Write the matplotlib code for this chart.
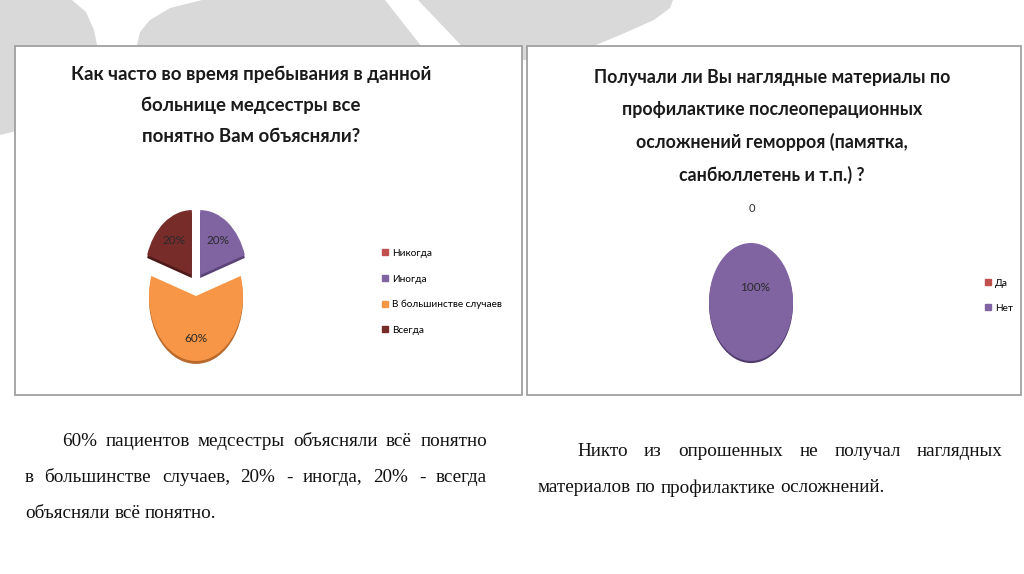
import matplotlib
matplotlib.use('Agg')
import matplotlib.pyplot as plt
from matplotlib.patches import Rectangle, Polygon, Patch

# данные
left_title = ['Как часто во время пребывания в данной', 'больнице медсестры все', 'понятно Вам объясняли?']
left_labels = ['Никогда', 'Иногда', 'В большинстве случаев', 'Всегда']
left_values = [0, 20, 60, 20]
left_colors = ['#c0504d', '#8064a2', '#f79646', '#772c2a']
left_shade = ['#8a3331', '#5b4478', '#b86a2c', '#4d1a19']

right_title = ['Получали ли Вы наглядные материалы по', 'профилактике послеоперационных',
               'осложнений геморроя (памятка,', 'санбюллетень и т.п.) ?']
right_labels = ['Да', 'Нет']
right_values = [0, 100]
right_colors = ['#c0504d', '#8064a2']
right_shade = ['#8a3331', '#4f3a6b']

left_text = ['60% пациентов медсестры объясняли всё понятно',
             'в большинстве случаев, 20% - иногда, 20% - всегда',
             'объясняли всё понятно.']
right_text = ['Никто из опрошенных не получал наглядных',
              'материалов по профилактике осложнений.']

W, H = 1024, 574
fig = plt.figure(figsize=(W / 100, H / 100), dpi=100)
bg = fig.add_axes([0, 0, 1, 1])
bg.set_xlim(0, W)
bg.set_ylim(H, 0)
bg.axis('off')

sans = ['Lato', 'DejaVu Sans']
serif = ['Liberation Serif', 'DejaVu Serif']

# серые фигуры фона
grey = '#d9d9d9'
bg.add_patch(Polygon([(0, 0), (72, 0), (86, 12), (94, 30), (100, 60), (100, 100), (60, 120), (0, 135)],
                     closed=True, fc=grey, ec='none'))
bg.add_patch(Polygon([(202, 0), (385, 0), (440, 70), (137, 70), (137, 45), (140, 32), (150, 20), (170, 8)],
                     closed=True, fc=grey, ec='none'))
bg.add_patch(Polygon([(418, 0), (673, 0), (670, 8), (654, 20), (620, 35), (560, 60), (475, 60)],
                     closed=True, fc=grey, ec='none'))

# рамки
for x0, x1 in [(15, 522), (527, 1021)]:
    bg.add_patch(Rectangle((x0, 46), x1 - x0, 349, fc='white', ec='#a0a0a0', lw=1.3))

# заголовки
for i, s in enumerate(left_title):
    bg.text(251, 74 + i * 31.5, s, ha='center', va='center', fontsize=13.4,
            fontweight='bold', family=sans, color='#1a1a1a')
for i, s in enumerate(right_title):
    bg.text(772, 77 + i * 32.7, s, ha='center', va='center', fontsize=12.8,
            fontweight='bold', family=sans, color='#1a1a1a')


def pie_axes(cx, cy, rx, ry, span=1.6):
    ax = fig.add_axes([(cx - span * rx) / W, 1 - (cy + span * ry) / H,
                       2 * span * rx / W, 2 * span * ry / H])
    return ax


def finish(ax, span=1.6):
    ax.set_aspect('auto')
    ax.set_xlim(-span, span)
    ax.set_ylim(-span, span)
    ax.axis('off')


# левая диаграмма
ax1 = pie_axes(196, 283, 47, 65)
expl = [0.15, 0.15, 0.2, 0.15]
ax1.pie(left_values, colors=left_shade, startangle=90, counterclock=False,
        explode=expl, center=(0, -0.045))
w1, _, pct1 = ax1.pie(left_values, colors=left_colors, startangle=90, counterclock=False,
                      explode=expl, autopct=lambda p: f'{p:.0f}%' if p > 0 else '',
                      pctdistance=0.65, textprops=dict(fontsize=8.5, family=sans, color='#2a2a2a'))
finish(ax1)
bg.legend([Patch(color=c) for c in left_colors], left_labels, loc='upper left',
          bbox_to_anchor=(373, 240), bbox_transform=bg.transData, frameon=False,
          handlelength=0.55, handleheight=0.55, handletextpad=0.45, labelspacing=1.65,
          prop=dict(family=sans, size=7.2))

# правая диаграмма
ax2 = pie_axes(751, 302, 42, 59)
ax2.pie(right_values, colors=right_shade, startangle=90, counterclock=False, center=(0, -0.035))
ax2.pie(right_values, colors=right_colors, startangle=90, counterclock=False)
ax2.text(0.1, 0.25, f'{right_values[1]}%', ha='center', va='center', fontsize=8.5,
         family=sans, color='#2a2a2a')
ax2.text(0.02, 1.58, f'{right_values[0]}', ha='center', va='center', fontsize=8,
         family=sans, color='#2a2a2a')
finish(ax2)
fig.legend([Patch(color=c) for c in right_colors], right_labels, loc='upper left',
           bbox_to_anchor=(976, 270), bbox_transform=bg.transData, frameon=False,
           handlelength=0.55, handleheight=0.55, handletextpad=0.45, labelspacing=1.6,
           prop=dict(family=sans, size=7.2))

# текст под диаграммами
renderer = fig.canvas.get_renderer()
SIZE = 13.8


def justify(line, x0, x1, y, last=False):
    words = line.split()
    ts = [bg.text(0, y, w, fontsize=SIZE, family=serif, va='center', ha='left', color='#111111')
          for w in words]
    ws = [t.get_window_extent(renderer).width for t in ts]
    if last or len(words) == 1:
        gap = SIZE * 100 / 72 * 0.25
    else:
        gap = (x1 - x0 - sum(ws)) / (len(words) - 1)
    x = x0
    for t, w in zip(ts, ws):
        t.set_x(x)
        x += w + gap


justify(left_text[0], 62, 487, 441)
justify(left_text[1], 25, 487, 478)
justify(left_text[2], 25, 487, 514, last=True)
justify(right_text[0], 577, 1003, 451)
justify(right_text[1], 538, 1003, 488, last=True)

fig.savefig('out.png', dpi=100)
